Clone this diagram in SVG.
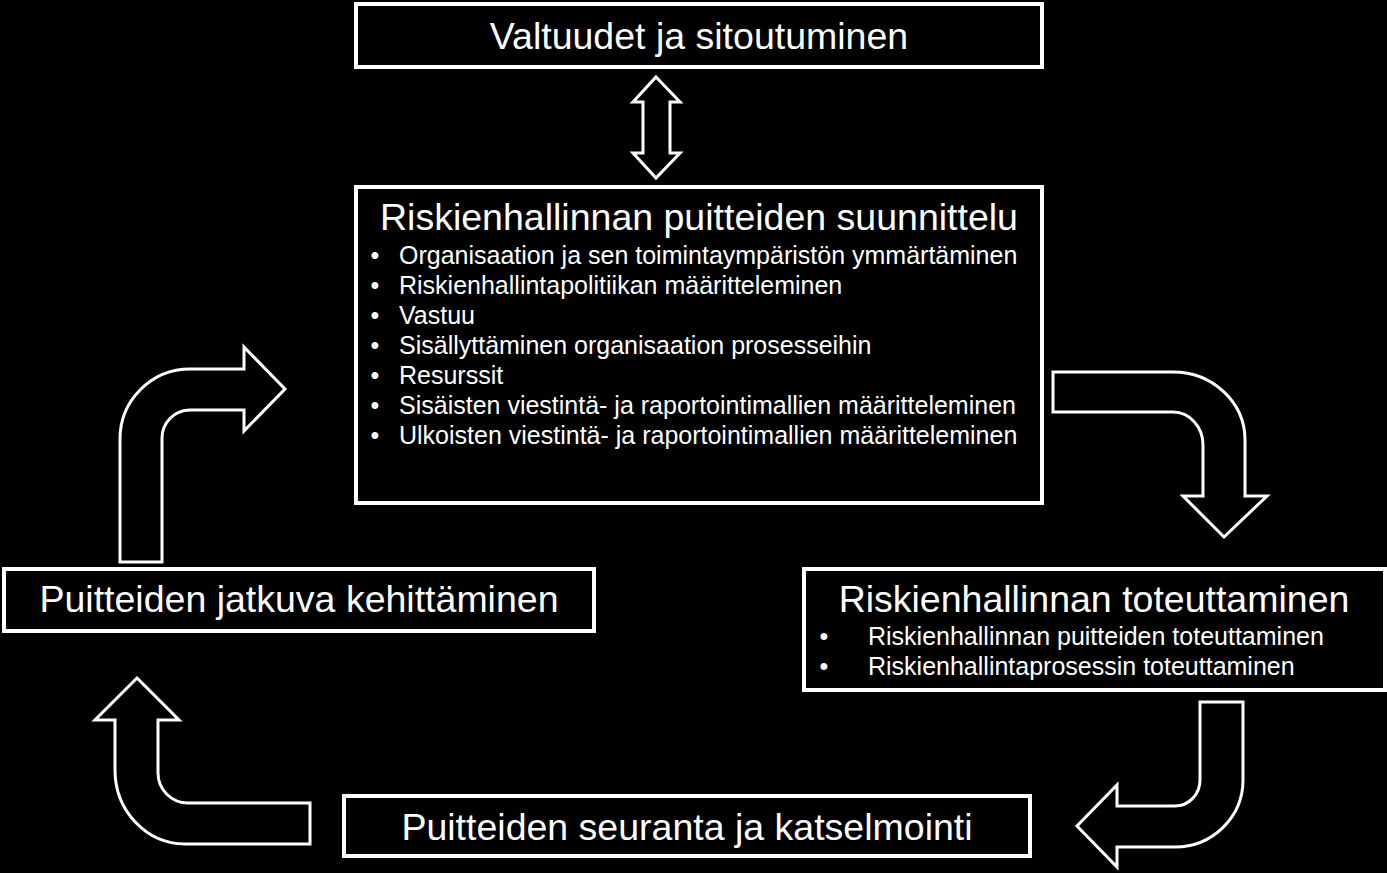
<svg xmlns="http://www.w3.org/2000/svg" width="1387" height="873" viewBox="0 0 1387 873">
<style>
.box{fill:#000;stroke:#fff;stroke-width:4}
.arr{fill:#000;stroke:#fff;stroke-width:3;stroke-linejoin:miter}
.t{font-family:"Liberation Sans",Arial,sans-serif;fill:#fff;font-size:37.5px;text-anchor:middle}
.b{font-family:"Liberation Sans",Arial,sans-serif;fill:#fff;font-size:25px}
.bc{text-anchor:middle}
</style>
<rect width="1387" height="873" fill="#000"/>
<g id="connectors">
<path class="arr" d="M656,77 L680,102 H670 V153 H680 L656,178 L633,153 H643 V102 H633 Z"/>
<path class="arr" d="M1053,372 H1173 A72,68 0 0 1 1245,440 V496 H1267 L1224,537 L1183,496 H1203 V445 A30,33 0 0 0 1173,412 H1053 Z"/>
<path class="arr" d="M1200,702 H1243 V780 A68,67 0 0 1 1175,847 H1117 V867 L1077,826 L1117,785 V806 H1175 A25,26 0 0 0 1200,780 Z"/>
<path class="arr" d="M137,678 L179,720 H158 V773 A30,30 0 0 0 188,803 H310 V844 H185 A70,74 0 0 1 115,770 V720 H95 Z"/>
<path class="arr" d="M120,562 V439 A70,70 0 0 1 190,369 H244 V347 L285,389 L244,431 V410 H190 A28,28 0 0 0 162,438 V562 Z"/>
</g>
<g id="node-valtuudet">
<rect class="box" x="356" y="4" width="686" height="63"/>
<text class="t" x="699" y="49">Valtuudet ja sitoutuminen</text>
</g>
<g id="node-suunnittelu">
<rect class="box" x="356" y="187" width="686" height="316"/>
<text class="t" x="699" y="230">Riskienhallinnan puitteiden suunnittelu</text>
<g class="b">
<text class="bc" x="375" y="264">•</text><text x="399" y="264">Organisaation ja sen toimintaympäristön ymmärtäminen</text>
<text class="bc" x="375" y="294">•</text><text x="399" y="294">Riskienhallintapolitiikan määritteleminen</text>
<text class="bc" x="375" y="324">•</text><text x="399" y="324">Vastuu</text>
<text class="bc" x="375" y="354">•</text><text x="399" y="354">Sisällyttäminen organisaation prosesseihin</text>
<text class="bc" x="375" y="384">•</text><text x="399" y="384">Resurssit</text>
<text class="bc" x="375" y="414">•</text><text x="399" y="414">Sisäisten viestintä- ja raportointimallien määritteleminen</text>
<text class="bc" x="375" y="444">•</text><text x="399" y="444">Ulkoisten viestintä- ja raportointimallien määritteleminen</text>
</g>
</g>
<g id="node-toteuttaminen">
<rect class="box" x="804" y="569" width="581" height="121"/>
<text class="t" x="1094" y="612">Riskienhallinnan toteuttaminen</text>
<g class="b">
<text class="bc" x="824" y="645">•</text><text x="868" y="645">Riskienhallinnan puitteiden toteuttaminen</text>
<text class="bc" x="824" y="675">•</text><text x="868" y="675">Riskienhallintaprosessin toteuttaminen</text>
</g>
</g>
<g id="node-seuranta">
<rect class="box" x="344" y="796" width="686" height="60"/>
<text class="t" x="687" y="840">Puitteiden seuranta ja katselmointi</text>
</g>
<g id="node-kehittaminen">
<rect class="box" x="4" y="569" width="590" height="62"/>
<text class="t" x="299" y="612">Puitteiden jatkuva kehittäminen</text>
</g>
</svg>
